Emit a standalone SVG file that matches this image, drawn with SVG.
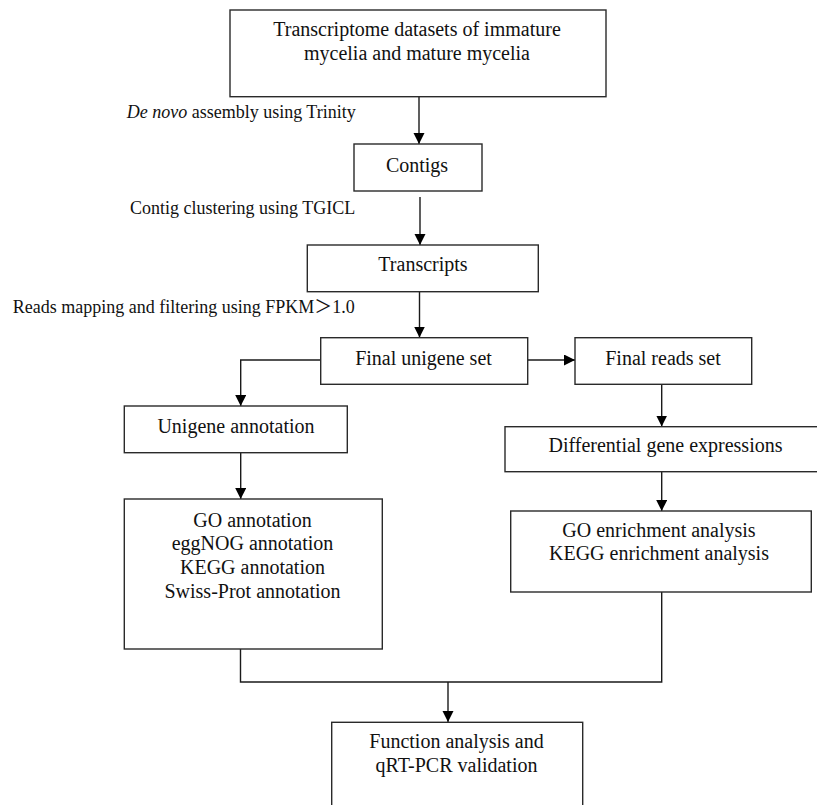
<svg xmlns="http://www.w3.org/2000/svg" width="817" height="805" viewBox="0 0 817 805">
<style>
  .box { fill: #ffffff; stroke: #2a2a2a; stroke-width: 1.4; }
  .t { font-family: "Liberation Serif", "Times New Roman", serif; font-size: 20px; fill: #111; text-anchor: middle; }
  .lbl { font-family: "Liberation Serif", "Times New Roman", "Noto Sans CJK SC", serif; font-size: 18px; fill: #111; }
  .c { fill: none; stroke: #1a1a1a; stroke-width: 1.4; }
</style>
<defs>
  <marker id="arr" markerUnits="userSpaceOnUse" markerWidth="12" markerHeight="12" refX="11" refY="5.5" orient="auto">
    <path d="M0,0 L11,5.5 L0,11 z" fill="#000"/>
  </marker>
</defs>
<rect width="817" height="805" fill="#ffffff"/>

<g id="connectors">
  <line class="c" x1="419" y1="97" x2="419" y2="144" marker-end="url(#arr)"/>
  <line class="c" x1="420" y1="197" x2="420" y2="245" marker-end="url(#arr)"/>
  <line class="c" x1="419.5" y1="292" x2="419.5" y2="337.5" marker-end="url(#arr)"/>
  <line class="c" x1="528" y1="360" x2="575" y2="360" marker-end="url(#arr)"/>
  <polyline class="c" points="320.7,360 240.7,360 240.7,406" marker-end="url(#arr)"/>
  <line class="c" x1="240.7" y1="453" x2="240.7" y2="499" marker-end="url(#arr)"/>
  <line class="c" x1="661.7" y1="384.5" x2="661.7" y2="426.5" marker-end="url(#arr)"/>
  <line class="c" x1="661.7" y1="472" x2="661.7" y2="511" marker-end="url(#arr)"/>
  <polyline class="c" points="240.5,649 240.5,682 661.7,682 661.7,592"/>
  <line class="c" x1="448" y1="682" x2="448" y2="722" marker-end="url(#arr)"/>
</g>

<g id="label-denovo">
  <text class="lbl" x="126.7" y="118.3"><tspan font-style="italic">De novo</tspan> assembly using Trinity</text>
</g>
<g id="label-clustering">
  <text class="lbl" x="130" y="214">Contig clustering using TGICL</text>
</g>
<g id="label-mapping">
  <text class="lbl" x="12.7" y="313">Reads mapping and filtering using FPKM＞1.0</text>
</g>

<g id="node-transcriptome">
  <rect class="box" x="230" y="10" width="376" height="86.7"/>
  <text class="t" x="417" y="36">Transcriptome datasets of immature</text>
  <text class="t" x="417" y="60">mycelia and mature mycelia</text>
</g>
<g id="node-contigs">
  <rect class="box" x="354" y="144" width="128" height="47"/>
  <text class="t" x="417" y="172">Contigs</text>
</g>
<g id="node-transcripts">
  <rect class="box" x="307.3" y="245" width="231" height="46.7"/>
  <text class="t" x="423" y="271">Transcripts</text>
</g>
<g id="node-final-unigene">
  <rect class="box" x="320.7" y="337.7" width="207" height="46.6"/>
  <text class="t" x="423.5" y="365">Final unigene set</text>
</g>
<g id="node-final-reads">
  <rect class="box" x="575" y="337.7" width="176.7" height="46.6"/>
  <text class="t" x="663" y="365">Final reads set</text>
</g>
<g id="node-unigene-annotation">
  <rect class="box" x="124.3" y="406" width="223" height="46.7"/>
  <text class="t" x="236" y="433.3">Unigene annotation</text>
</g>
<g id="node-annotations">
  <rect class="box" x="124.3" y="499" width="258" height="150"/>
  <text class="t" x="252.5" y="526.7">GO annotation</text>
  <text class="t" x="252.5" y="550">eggNOG annotation</text>
  <text class="t" x="252.5" y="574.3">KEGG annotation</text>
  <text class="t" x="252.5" y="598.3">Swiss-Prot annotation</text>
</g>
<g id="node-differential">
  <rect class="box" x="505" y="426.7" width="330" height="45"/>
  <text class="t" x="665.5" y="451.7">Differential gene expressions</text>
</g>
<g id="node-enrichment">
  <rect class="box" x="510.7" y="511" width="300.6" height="81"/>
  <text class="t" x="659" y="536.7">GO enrichment analysis</text>
  <text class="t" x="659" y="560">KEGG enrichment analysis</text>
</g>
<g id="node-function">
  <rect class="box" x="331.7" y="722.3" width="251" height="100"/>
  <text class="t" x="456.5" y="748.3">Function analysis and</text>
  <text class="t" x="456.5" y="771.7">qRT-PCR validation</text>
</g>
</svg>
